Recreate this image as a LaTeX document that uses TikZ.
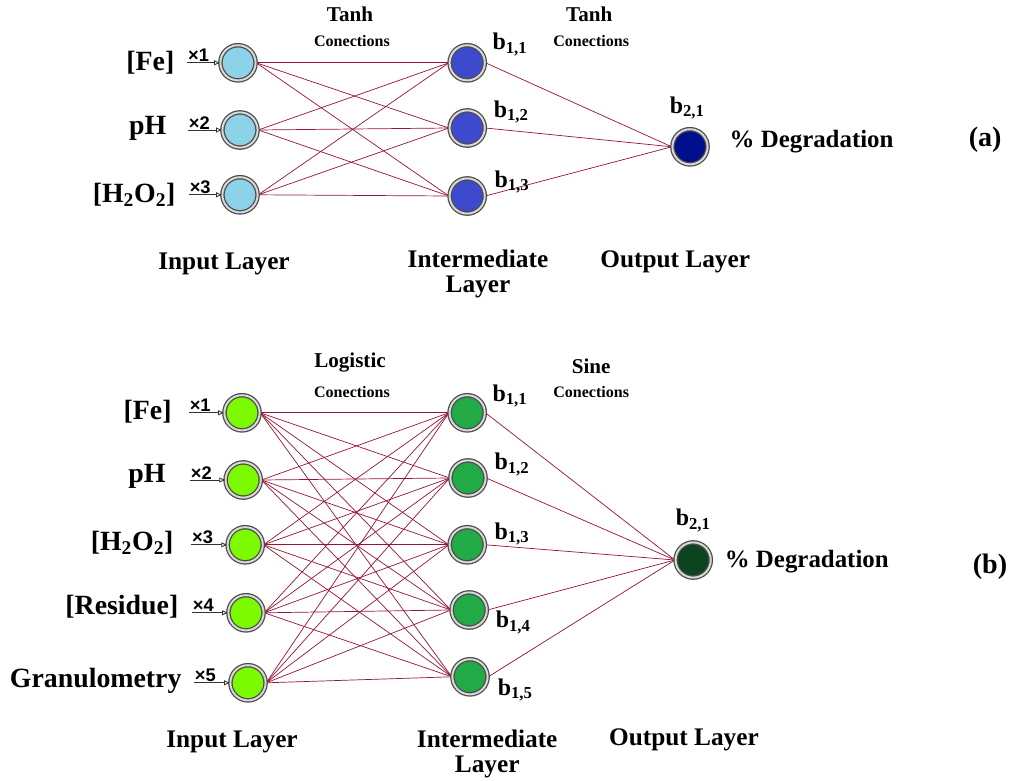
\documentclass[tikz,border=0pt]{standalone}
\usepackage{fontspec}
\setmainfont{Liberation Serif}
\newfontfamily\xfont{Liberation Sans}
\usetikzlibrary{arrows.meta,backgrounds,positioning}
\definecolor{inA}{RGB}{140,210,232}
\definecolor{hidA}{RGB}{62,74,205}
\definecolor{outA}{RGB}{0,15,140}
\definecolor{inB}{RGB}{124,250,0}
\definecolor{hidB}{RGB}{34,170,70}
\definecolor{outB}{RGB}{12,68,32}
\definecolor{linkred}{RGB}{150,20,50}

\begin{document}
\begin{tikzpicture}[
	neuron/.style={circle,minimum size=0.88cm,inner sep=0pt,draw=gray!60!black,line width=0.9pt,double=gray!30,double distance=1.4pt},
	conn/.style={draw=linkred,line width=0.5pt},
	feed/.style={-{Triangle[open,length=4pt,width=3.5pt]},line width=0.6pt,black!80},
	inlabel/.style={anchor=east,inner sep=1pt,font=\fontsize{19.8}{22}\selectfont\bfseries},
	xlab/.style={anchor=south west,inner sep=0.5pt,font=\xfont\fontsize{13}{14}\selectfont\bfseries},
	blab/.style={font=\fontsize{17}{19}\selectfont\bfseries},
	layer/.style={align=center,font=\fontsize{18}{18}\selectfont\bfseries},
	func/.style={font=\fontsize{15}{17}\selectfont\bfseries},
	conlab/.style={font=\fontsize{11.4}{13}\selectfont\bfseries},
	outlab/.style={anchor=west,inner sep=1pt,font=\fontsize{17.7}{20}\selectfont\bfseries},
	tag/.style={font=\fontsize{20}{22}\selectfont\bfseries}]
	\useasboundingbox (0,0) rectangle (25.425,19.5);

	% (a): three inputs, three hidden, one output
	\node[neuron,fill=inA] (ia1) at (5.95,17.93) {};
	\node[neuron,fill=inA] (ia2) at (6.0,16.25) {};
	\node[neuron,fill=inA] (ia3) at (6.0,14.63) {};
	\node[neuron,fill=hidA] (ha1) at (11.68,17.93) {};
	\node[neuron,fill=hidA] (ha2) at (11.68,16.3) {};
	\node[neuron,fill=hidA] (ha3) at (11.68,14.6) {};
	\node[neuron,fill=outA] (oa) at (17.25,15.83) {};

	\node[inlabel] (fea) at (4.4,17.93) {[Fe]};
	\node[inlabel] (pha) at (4.2,16.28) {pH};
	\node[inlabel] (pera) at (4.43,14.63) {[H\textsubscript{2}O\textsubscript{2}]};
	\coordinate (sa1) at (4.68,17.93);
	\coordinate (sa2) at (4.7,16.25);
	\coordinate (sa3) at (4.72,14.63);
	\node[xlab] (xa1) at (sa1) {×1};
	\node[xlab] (xa2) at (sa2) {×2};
	\node[xlab] (xa3) at (sa3) {×3};
	\draw[feed] (sa1) -- (ia1.west);
	\draw[feed] (sa2) -- (ia2.west);
	\draw[feed] (sa3) -- (ia3.west);

	\node[blab] (ba11) at (12.75,18.38) {b\textsubscript{1,1}};
	\node[blab] (ba12) at (12.78,16.7) {b\textsubscript{1,2}};
	\node[blab] (ba13) at (12.8,14.95) {b\textsubscript{1,3}};
	\node[blab] (ba21) at (17.18,16.8) {b\textsubscript{2,1}};

	\node[func] (fa1) at (8.75,19.15) {Tanh};
	\node[conlab] (ca1) at (8.8,18.48) {Conections};
	\node[func] (fa2) at (14.73,19.15) {Tanh};
	\node[conlab] (ca2) at (14.78,18.48) {Conections};

	\node[outlab] (dega) at (18.2,15.95) {\% Degradation};
	\node[tag] (taga) at (24.63,16.0) {(a)};
	\node[layer] (lina) at (5.6,12.9) {Input Layer};
	\node[layer] (lhia) at (11.95,12.65) {Intermediate\\Layer};
	\node[layer] (louta) at (16.88,12.95) {Output Layer};

	\begin{scope}[on background layer]
	\foreach \i in {1,2,3}
		\foreach \j in {1,2,3}
			\draw[conn] (ia\i.east) -- (ha\j.west);
	\foreach \j in {1,2,3}
		\draw[conn] (ha\j.east) -- (oa.west);
	\end{scope}

	% (b): five inputs, five hidden, one output
	\node[neuron,fill=inB] (ib1) at (6.05,9.18) {};
	\node[neuron,fill=inB] (ib2) at (6.08,7.5) {};
	\node[neuron,fill=inB] (ib3) at (6.13,5.88) {};
	\node[neuron,fill=inB] (ib4) at (6.15,4.18) {};
	\node[neuron,fill=inB] (ib5) at (6.2,2.43) {};
	\node[neuron,fill=hidB] (hb1) at (11.68,9.18) {};
	\node[neuron,fill=hidB] (hb2) at (11.7,7.55) {};
	\node[neuron,fill=hidB] (hb3) at (11.68,5.88) {};
	\node[neuron,fill=hidB] (hb4) at (11.73,4.25) {};
	\node[neuron,fill=hidB] (hb5) at (11.75,2.58) {};
	\node[neuron,fill=outB] (ob) at (17.33,5.5) {};

	\node[inlabel] (feb) at (4.33,9.2) {[Fe]};
	\node[inlabel] (phb) at (4.18,7.58) {pH};
	\node[inlabel] (perb) at (4.38,5.93) {[H\textsubscript{2}O\textsubscript{2}]};
	\node[inlabel] (resb) at (4.5,4.33) {[Residue]};
	\node[inlabel] (granb) at (4.58,2.48) {Granulometry};
	\coordinate (sb1) at (4.72,9.18);
	\coordinate (sb2) at (4.75,7.5);
	\coordinate (sb3) at (4.78,5.88);
	\coordinate (sb4) at (4.8,4.18);
	\coordinate (sb5) at (4.85,2.43);
	\foreach \i in {1,...,5} {
		\node[xlab] (xb\i) at (sb\i) {×\i};
		\draw[feed] (sb\i) -- (ib\i.west);
	}

	\node[blab] (bb11) at (12.75,9.6) {b\textsubscript{1,1}};
	\node[blab] (bb12) at (12.8,7.88) {b\textsubscript{1,2}};
	\node[blab] (bb13) at (12.8,6.15) {b\textsubscript{1,3}};
	\node[blab] (bb14) at (12.83,3.93) {b\textsubscript{1,4}};
	\node[blab] (bb15) at (12.88,2.25) {b\textsubscript{1,5}};
	\node[blab] (bb21) at (17.33,6.48) {b\textsubscript{2,1}};

	\node[func] (fb1) at (8.75,10.43) {Logistic};
	\node[conlab] (cb1) at (8.8,9.7) {Conections};
	\node[func] (fb2) at (14.78,10.35) {Sine};
	\node[conlab] (cb2) at (14.78,9.7) {Conections};

	\node[outlab] (degb) at (18.08,5.45) {\% Degradation};
	\node[tag] (tagb) at (24.75,5.33) {(b)};
	\node[layer] (linb) at (5.8,0.95) {Input Layer};
	\node[layer] (lhib) at (12.18,0.65) {Intermediate\\Layer};
	\node[layer] (loutb) at (17.1,1.0) {Output Layer};

	\begin{scope}[on background layer]
	\foreach \i in {1,...,5}
		\foreach \j in {1,...,5}
			\draw[conn] (ib\i.east) -- (hb\j.west);
	\foreach \j in {1,...,5}
		\draw[conn] (hb\j.east) -- (ob.west);
	\end{scope}
\end{tikzpicture}
\end{document}
